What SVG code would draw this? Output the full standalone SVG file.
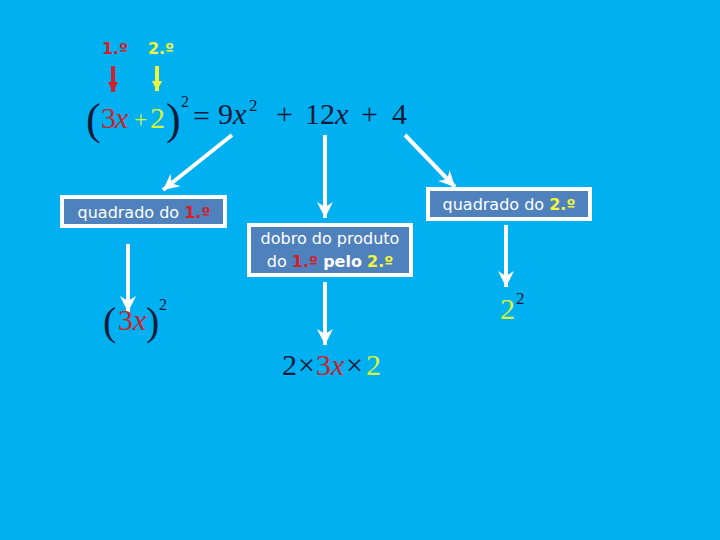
<svg xmlns="http://www.w3.org/2000/svg" width="720" height="540" viewBox="0 0 720 540">
<style>
.lbl{font-family:"DejaVu Sans","Liberation Sans",sans-serif;font-size:16px;fill:#ffffff}
.b{font-weight:bold}
.red{fill:#d21f2b}
.yel{fill:#f0f53c}
.box{fill:#4f81bd;stroke:#ffffff;stroke-width:4}
.m{font-family:"Liberation Serif","Times New Roman",serif;font-size:30px;fill:#0d1a3a}
.mi{font-style:italic}
.mr{fill:#c8232e}
.my{fill:#d6f53a}
.ar{stroke:#ffffff;stroke-width:4;fill:none}
</style>
<defs>
<marker id="aw" markerUnits="userSpaceOnUse" markerWidth="22" markerHeight="22" viewBox="0 0 22 22" refX="18" refY="11" orient="auto"><path d="M2,3 L18,11 L2,19 L7,11 Z" fill="#ffffff"/></marker>
<marker id="ared" markerUnits="userSpaceOnUse" markerWidth="14" markerHeight="14" viewBox="0 0 14 14" refX="12" refY="7" orient="auto"><path d="M2,2 L12,7 L2,12 Z" fill="#d21f2b"/></marker>
<marker id="ayel" markerUnits="userSpaceOnUse" markerWidth="14" markerHeight="14" viewBox="0 0 14 14" refX="12" refY="7" orient="auto"><path d="M2,2 L12,7 L2,12 Z" fill="#f0f53c"/></marker>
</defs>
<rect width="720" height="540" fill="#00b0f0"/>

<g id="labels-top">
<text x="115" y="54" text-anchor="middle" class="lbl b red">1.º</text>
<text x="161" y="54" text-anchor="middle" class="lbl b yel">2.º</text>
</g>

<g id="formula">
<text x="86" y="134" class="m" style="font-size:44px">(</text>
<text x="101" y="128" class="m mr">3</text>
<text x="115" y="128" class="m mr mi">x</text>
<text x="134" y="127" class="m my" style="font-size:24px">+</text>
<text x="150" y="128" class="m my">2</text>
<text x="166" y="134" class="m" style="font-size:44px">)</text>
<text x="181" y="107" class="m" style="font-size:16px">2</text>
<text x="193" y="126" class="m">=</text>
<text x="218" y="124" class="m">9<tspan class="mi">x</tspan></text>
<text x="249" y="111" class="m" style="font-size:17px">2</text>
<text x="276" y="124" class="m">+</text>
<text x="305" y="124" class="m">12<tspan class="mi">x</tspan></text>
<text x="361" y="124" class="m">+</text>
<text x="392" y="124" class="m">4</text>
</g>

<g id="connectors">
<line x1="113" y1="66" x2="113" y2="92" stroke="#d21f2b" stroke-width="4" marker-end="url(#ared)"/>
<line x1="157" y1="66" x2="157" y2="91" stroke="#f0f53c" stroke-width="4" marker-end="url(#ayel)"/>
<line x1="232" y1="135" x2="163" y2="190" class="ar" marker-end="url(#aw)"/>
<line x1="325" y1="135" x2="325" y2="218" class="ar" marker-end="url(#aw)"/>
<line x1="405" y1="135" x2="455" y2="187" class="ar" marker-end="url(#aw)"/>
<line x1="128" y1="244" x2="128" y2="312" class="ar" marker-end="url(#aw)"/>
<line x1="325" y1="282" x2="325" y2="345" class="ar" marker-end="url(#aw)"/>
<line x1="506" y1="225" x2="506" y2="287" class="ar" marker-end="url(#aw)"/>
</g>

<g id="box1">
<rect x="62" y="197" width="163" height="29" class="box"/>
<text x="144" y="218" text-anchor="middle" class="lbl">quadrado do <tspan class="b red">1.º</tspan></text>
</g>

<g id="box2">
<rect x="249" y="225" width="162" height="50" class="box"/>
<text x="330" y="244" text-anchor="middle" class="lbl">dobro do produto</text>
<text x="330" y="267" text-anchor="middle" class="lbl">do <tspan class="b red">1.º</tspan> <tspan class="b">pelo</tspan> <tspan class="b yel">2.º</tspan></text>
</g>

<g id="box3">
<rect x="428" y="189" width="162" height="30" class="box"/>
<text x="509" y="210" text-anchor="middle" class="lbl">quadrado do <tspan class="b yel">2.º</tspan></text>
</g>

<g id="res1">
<text x="103" y="335" class="m" style="font-size:40px">(</text>
<text x="118" y="330" class="m mr">3<tspan class="mi">x</tspan></text>
<text x="146" y="335" class="m" style="font-size:40px">)</text>
<text x="159" y="310" class="m" style="font-size:16px">2</text>
</g>

<g id="res2">
<text x="282" y="375" class="m">2</text>
<text x="298" y="375" class="m">×</text>
<text x="316" y="375" class="m mr">3<tspan class="mi">x</tspan></text>
<text x="346" y="375" class="m">×</text>
<text x="366" y="375" class="m my">2</text>
</g>

<g id="res3">
<text x="500" y="319" class="m my">2</text>
<text x="516" y="304" class="m" style="font-size:17px">2</text>
</g>
</svg>
